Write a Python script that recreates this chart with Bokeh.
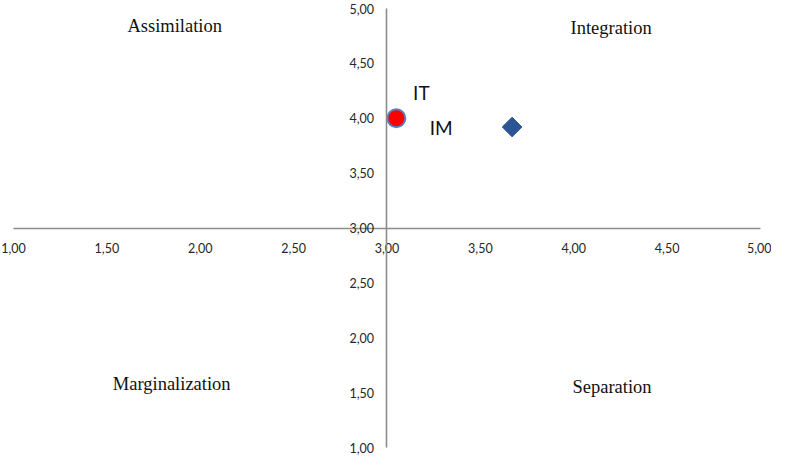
import math
from bokeh.plotting import figure
from bokeh.models import LinearAxis, FixedTicker, Range1d, ColumnDataSource
from bokeh.embed import file_html
from bokeh.resources import INLINE
from bokeh.core.properties import value

# ---- data ----
x_ticks = [1.0, 1.5, 2.0, 2.5, 3.0, 3.5, 4.0, 4.5, 5.0]
x_tick_labels = ["1,00", "1,50", "2,00", "2,50", "3,00", "3,50", "4,00", "4,50", "5,00"]
y_ticks = [1.0, 1.5, 2.0, 2.5, 3.0, 3.5, 4.0, 4.5, 5.0]
y_tick_labels = ["1,00", "1,50", "2,00", "2,50", "3,00", "3,50", "4,00", "4,50", "5,00"]

it_x = [3.05]
it_y = [4.00]
im_x = [3.67]
im_y = [3.92]
point_labels = ["IT", "IM"]

quadrant_names = ["Assimilation", "Integration", "Marginalization", "Separation"]
axis_origin = 3.0

# ---- figure ----
p = figure(width=771, height=456, output_backend="svg", toolbar_location=None,
           x_range=Range1d(0.9304, 5.0589), y_range=Range1d(0.918, 5.0729),
           x_axis_location=None, y_axis_location=None,
           min_border=0, min_border_left=0, min_border_right=0,
           min_border_top=0, min_border_bottom=0)
p.grid.visible = False
p.outline_line_color = None
p.background_fill_color = "white"
p.border_fill_color = "white"

label_font = "Lato"
axis_color = "#8c8c8c"

xaxis = LinearAxis(fixed_location=axis_origin, bounds=(x_ticks[0], x_ticks[-1]),
                   ticker=FixedTicker(ticks=x_ticks),
                   major_label_overrides={t: l for t, l in zip(x_ticks, x_tick_labels)})
yaxis = LinearAxis(fixed_location=axis_origin, bounds=(y_ticks[0], y_ticks[-1]),
                   ticker=FixedTicker(ticks=y_ticks),
                   major_label_overrides={t: l for t, l in zip(y_ticks, y_tick_labels)})
for ax in (xaxis, yaxis):
    ax.axis_line_color = axis_color
    ax.axis_line_width = 1.6
    ax.major_tick_line_color = None
    ax.minor_tick_line_color = None
    ax.major_tick_in = 0
    ax.major_tick_out = 0
    ax.major_label_text_font = label_font
    ax.major_label_text_font_size = "12.5px"
    ax.major_label_text_color = "#262626"
xaxis.major_label_standoff = 15
yaxis.major_label_standoff = 13
p.add_layout(xaxis, "below")
p.add_layout(yaxis, "left")

# ---- points ----
p.scatter(it_x, it_y, marker="circle", size=18, fill_color="#ff0000",
          line_color="#5b7fc0", line_width=2)
p.scatter(im_x, im_y, marker="square", size=14, angle=math.pi / 4,
          fill_color="#2b5595", line_color="#3a5f8f", line_width=1)

pt_src = ColumnDataSource(dict(x=[it_x[0], im_x[0]], y=[it_y[0], im_y[0]],
                               t=point_labels, dx=[25, -71], dy=[-26, 0]))
p.text(x="x", y="y", text="t", x_offset="dx", y_offset="dy", source=pt_src,
       text_font=value(label_font), text_font_size="19px", text_color="#111111",
       text_align="center", text_baseline="middle")

# ---- quadrant labels ----
q_src = ColumnDataSource(dict(x=[1.863, 4.20, 1.847, 4.205],
                              y=[4.84, 4.82, 1.58, 1.555],
                              t=quadrant_names))
p.text(x="x", y="y", text="t", source=q_src,
       text_font=value("Liberation Serif"), text_font_size="18.5px",
       text_color="#111111", text_align="center", text_baseline="middle")

open("out.html", "w").write(file_html(p, INLINE))
